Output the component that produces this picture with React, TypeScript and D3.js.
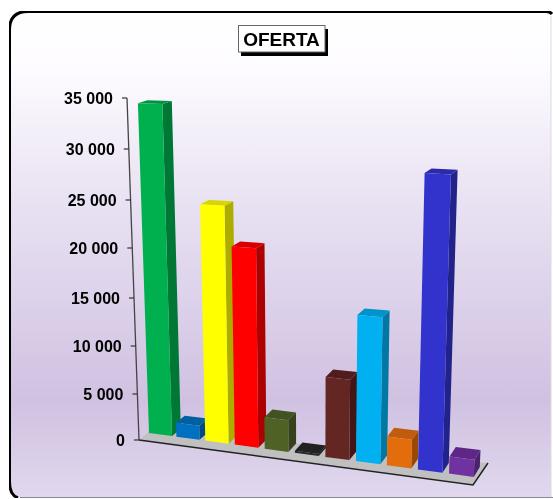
import React from "react";
import * as d3 from "d3";

const W = 553, H = 499;
const categories = ["A","B","C","D","E","F","G","H","I","J","K"];
const values = [33800,1500,24200,20100,3300,200,8100,14500,2900,28300,1700];
const frontColors = ["#00b050","#0070c0","#ffff00","#ff0000","#4f6228","#262626","#632523","#00b0f0","#e36c09","#3333cc","#7030a0"];
const ticks = [0,5000,10000,15000,20000,25000,30000,35000];
const tickHeights = [0,46,94,142,192,240,291,342];
const title = "OFERTA";

const heightScale = d3.scaleLinear().domain(ticks).range(tickHeights);
const slot = d3.scalePoint<string>().domain(categories).range([0,1]);
const along = d3.scalePow().exponent(1.04).domain([0,1]).range([0,300/325]);
const lerp = (a:number,b:number,t:number)=>a+(b-a)*t;
const VX = 310, VY = 5200;
// floor quad holding the bars
const F0=[149,433],F1=[474,477],B0=[158,426],B1=[480,467];
const project=(u:number,w:number,v:number):[number,number]=>{
  const fx=lerp(F0[0],F1[0],u),fy=lerp(F0[1],F1[1],u);
  const bx=lerp(B0[0],B1[0],u),by=lerp(B0[1],B1[1],u);
  const h=heightScale(v)*(1+0.1*u);
  const x=lerp(fx,bx,w);
  const y=lerp(fy,by,w*(1-0.6*h/340));
  const y2=y-h;
  return [VX+(x-VX)*((VY-y2)/(VY-y)),y2];
};
const poly=(pts:[number,number][])=>pts.map(p=>p.map(n=>n.toFixed(1)).join(",")).join(" ");
const axisPoint=(v:number):[number,number]=>{
  const y=440-heightScale(v);
  return [d3.scaleLinear().domain([440,98]).range([139,127])(y),y];
};
const numFmt=(v:number)=>d3.format(",")(v).replace(/,/g," ");
const shade=(c:string,k:number)=>{
  const r=d3.rgb(c);
  return d3.rgb(r.r*k,r.g*k,r.b*k).formatHex();
};

export default function App(){
  return (
    <svg width={W} height={H} style={{position:"absolute",left:0,top:0,background:"#fff"}} fontFamily="Liberation Sans, Arial, sans-serif">
      <defs>
        <linearGradient id="bg" x1="0" y1="0" x2="0" y2="1">
          <stop offset="0" stopColor="#ffffff"/>
          <stop offset="0.12" stopColor="#fdfbff"/>
          <stop offset="0.4" stopColor="#e8e1f2"/>
          <stop offset="0.8" stopColor="#d0c1e1"/>
          <stop offset="1" stopColor="#e1d8ee"/>
        </linearGradient>
        <filter id="soft" x="0" y="0" width="1" height="1"><feGaussianBlur stdDeviation="0.45"/></filter>
      </defs>
      <g filter="url(#soft)">
        <path d="M551,11.5H28Q9.5,11.5 9.5,30V482Q9.5,497 22,497.5H551Z" fill="url(#bg)"/>
        <path d="M20,498H553" stroke="#8d8896" strokeWidth={2} fill="none"/>
        <path d="M551,16V497" stroke="#ddd8e5" strokeWidth={1} fill="none"/>
        <path d="M552,14Q550,11.5 546,11.5H28Q9.5,11.5 9.5,30V482Q9.5,495 18,498" fill="none" stroke="#000" strokeWidth={3}/>
        <polygon points={poly([[139,440],[473,485],[488,463],[152,429]])} fill="#c0c0c0" stroke="none"/>
        <path d="M139,440L473,485L488,463" fill="none" stroke="#222" strokeWidth={1.5}/>
        <path d={`M127,98L139,440`} stroke="#444" strokeWidth={1.3} fill="none"/>
        {ticks.map(t=>{
          const [x,y]=axisPoint(t);
          return <g key={t}>
            <line x1={x-5} x2={x} y1={y} y2={y} stroke="#333" strokeWidth={1.2}/>
            <text x={x-14} y={y+5.5} textAnchor="end" fontSize={16} fontWeight="bold" fill="#000">{numFmt(t)}</text>
          </g>;
        })}
        {categories.map((c,i)=>{
          const u0=along(slot(c)!);
          const u1=u0+(23+2*u0)/325;
          const v=values[i];
          const fbl=project(u0,0,0),fbr=project(u1,0,0),ftl=project(u0,0,v),ftr=project(u1,0,v);
          const bbr=project(u1,1,0),btr=project(u1,1,v),btl=project(u0,1,v);
          return <g key={c}>
            <polygon points={poly([fbr,bbr,btr,ftr])} fill={shade(frontColors[i],0.68)}/>
            <polygon points={poly([ftl,ftr,btr,btl])} fill={shade(frontColors[i],0.84)}/>
            <polygon points={poly([fbl,fbr,ftr,ftl])} fill={frontColors[i]}/>
          </g>;
        })}
        <rect x={241} y={29} width={87} height={27} fill="#000"/>
        <rect x={238.5} y={25.5} width={86.5} height={26.5} fill="#fff" stroke="#666" strokeWidth={1}/>
        <text x={281.5} y={46} textAnchor="middle" fontSize={19} fontWeight="bold" fill="#000">{title}</text>
      </g>
    </svg>
  );
}
